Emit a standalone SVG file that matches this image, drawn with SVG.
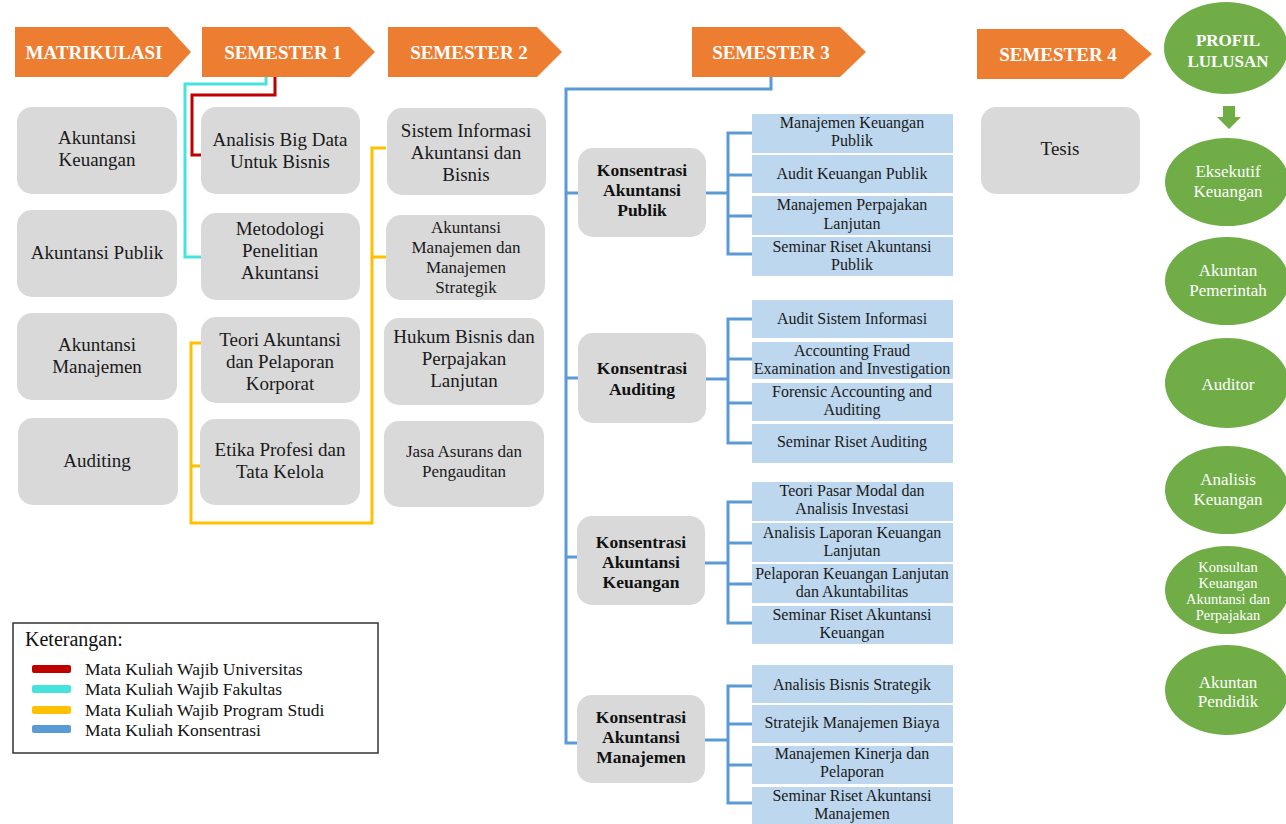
<svg xmlns="http://www.w3.org/2000/svg" width="1286" height="824" viewBox="0 0 1286 824">
<style>
text{font-family:"Liberation Serif","Times New Roman",Tinos,"DejaVu Serif","Noto Serif",serif}
.arr{fill:#ED7D31}
.arrt{font-weight:bold;font-size:19px;fill:#FFFFFF;text-anchor:middle}
.gb{fill:#D9D9D9}
.gt{font-size:19px;fill:#1a1a1a;text-anchor:middle}
.gs{font-size:17px}
.ct{font-weight:bold;font-size:17.5px;fill:#111;text-anchor:middle}
.bb{fill:#BDD7EE}
.bt{font-size:16px;fill:#1a1a1a;text-anchor:middle}
.el{fill:#70AD47}
.et{font-size:17px;fill:#FFFFFF;text-anchor:middle}
.eb{font-size:17px;font-weight:bold}
.es{font-size:14.5px}
.lt{font-size:17.5px;fill:#111}
.lh{font-size:20px}
.c{fill:none;stroke-width:3}
.red{stroke:#C00000}
.cy{stroke:#45E3DC}
.ye{stroke:#FFC000}
.bl{stroke:#5B9BD5}
</style>
<rect width="1286" height="824" fill="#FFFFFF"/>

<g id="connectors">
<polyline class="c cy" points="266,77 266,84 185,84 185,257 201,257"/>
<polyline class="c red" points="275,77 275,95 192,95 192,155 202,155"/>
<polyline class="c ye" points="201,343 191,343 191,523 372,523 372,148 386,148"/>
<polyline class="c ye" points="191,466 201,466"/>
<polyline class="c ye" points="372,257 386,257"/>
<polyline class="c bl" points="771,77 771,89 566,89 566,743 578,743"/>
<polyline class="c bl" points="566,193 578,193"/>
<polyline class="c bl" points="566,378 578,378"/>
<polyline class="c bl" points="566,557 578,557"/>
<polyline class="c bl" points="706,193 728,193"/>
<polyline class="c bl" points="752,133 728,133 728,254 752,254"/>
<polyline class="c bl" points="728,175 752,175"/>
<polyline class="c bl" points="728,216 752,216"/>
<polyline class="c bl" points="706,379 728,379"/>
<polyline class="c bl" points="752,319 728,319 728,443 752,443"/>
<polyline class="c bl" points="728,359 752,359"/>
<polyline class="c bl" points="728,403 752,403"/>
<polyline class="c bl" points="705,563 728,563"/>
<polyline class="c bl" points="752,502 728,502 728,623 752,623"/>
<polyline class="c bl" points="728,543 752,543"/>
<polyline class="c bl" points="728,584 752,584"/>
<polyline class="c bl" points="705,740 728,740"/>
<polyline class="c bl" points="752,686 728,686 728,803 752,803"/>
<polyline class="c bl" points="728,724 752,724"/>
<polyline class="c bl" points="728,765 752,765"/>
</g>

<g id="matrikulasi"><polygon class="arr" points="15,27 168,27 191,52 168,77 15,77"/><text class="arrt" x="94" y="59">MATRIKULASI</text></g>
<g id="semester1"><polygon class="arr" points="202,27 350,27 375,52 350,77 202,77"/><text class="arrt" x="283" y="59">SEMESTER 1</text></g>
<g id="semester2"><polygon class="arr" points="388,27 537,27 562,52 537,77 388,77"/><text class="arrt" x="469" y="59">SEMESTER 2</text></g>
<g id="semester3"><polygon class="arr" points="692,27 840,27 866,52 840,77 692,77"/><text class="arrt" x="771" y="59">SEMESTER 3</text></g>
<g id="semester4"><polygon class="arr" points="977,29 1123,29 1152,54 1123,79 977,79"/><text class="arrt" x="1058" y="61">SEMESTER 4</text></g>

<g id="m1"><rect class="gb" x="17" y="107" width="160" height="87" rx="15"/><text class="gt" x="97" y="144">Akuntansi</text><text class="gt" x="97" y="166">Keuangan</text></g>
<g id="m2"><rect class="gb" x="17" y="210" width="160" height="87" rx="15"/><text class="gt" x="97" y="259">Akuntansi Publik</text></g>
<g id="m3"><rect class="gb" x="17" y="313" width="160" height="87" rx="15"/><text class="gt" x="97" y="351">Akuntansi</text><text class="gt" x="97" y="373">Manajemen</text></g>
<g id="m4"><rect class="gb" x="18" y="418" width="160" height="87" rx="15"/><text class="gt" x="97" y="467">Auditing</text></g>

<g id="s1a"><rect class="gb" x="201" y="107" width="159" height="87" rx="15"/><text class="gt" x="280" y="146">Analisis Big Data</text><text class="gt" x="280" y="168">Untuk Bisnis</text></g>
<g id="s1b"><rect class="gb" x="201" y="213" width="159" height="87" rx="15"/><text class="gt" x="280" y="235">Metodologi</text><text class="gt" x="280" y="257">Penelitian</text><text class="gt" x="280" y="279">Akuntansi</text></g>
<g id="s1c"><rect class="gb" x="201" y="317" width="159" height="86" rx="15"/><text class="gt" x="280" y="346">Teori Akuntansi</text><text class="gt" x="280" y="368">dan Pelaporan</text><text class="gt" x="280" y="390">Korporat</text></g>
<g id="s1d"><rect class="gb" x="200" y="419" width="160" height="86" rx="15"/><text class="gt" x="280" y="456">Etika Profesi dan</text><text class="gt" x="280" y="478">Tata Kelola</text></g>

<g id="s2a"><rect class="gb" x="387" y="108" width="159" height="87" rx="15"/><text class="gt" x="466" y="137">Sistem Informasi</text><text class="gt" x="466" y="159">Akuntansi dan</text><text class="gt" x="466" y="181">Bisnis</text></g>
<g id="s2b"><rect class="gb" x="386" y="215" width="159" height="85" rx="15"/><text class="gt gs" x="466" y="233">Akuntansi</text><text class="gt gs" x="466" y="253">Manajemen dan</text><text class="gt gs" x="466" y="273">Manajemen</text><text class="gt gs" x="466" y="293">Strategik</text></g>
<g id="s2c"><rect class="gb" x="384" y="318" width="160" height="87" rx="15"/><text class="gt" x="464" y="343">Hukum Bisnis dan</text><text class="gt" x="464" y="365">Perpajakan</text><text class="gt" x="464" y="387">Lanjutan</text></g>
<g id="s2d"><rect class="gb" x="384" y="421" width="160" height="86" rx="15"/><text class="gt gs" x="464" y="457">Jasa Asurans dan</text><text class="gt gs" x="464" y="477">Pengauditan</text></g>

<g id="k1"><rect class="gb" x="578" y="148" width="128" height="89" rx="15"/><text class="ct" x="642" y="176">Konsentrasi</text><text class="ct" x="642" y="196">Akuntansi</text><text class="ct" x="642" y="216">Publik</text></g>
<g id="k2"><rect class="gb" x="578" y="333" width="128" height="90" rx="15"/><text class="ct" x="642" y="374">Konsentrasi</text><text class="ct" x="642" y="395">Auditing</text></g>
<g id="k3"><rect class="gb" x="577" y="516" width="128" height="89" rx="15"/><text class="ct" x="641" y="548">Konsentrasi</text><text class="ct" x="641" y="568">Akuntansi</text><text class="ct" x="641" y="588">Keuangan</text></g>
<g id="k4"><rect class="gb" x="577" y="695" width="128" height="88" rx="15"/><text class="ct" x="641" y="723">Konsentrasi</text><text class="ct" x="641" y="743">Akuntansi</text><text class="ct" x="641" y="763">Manajemen</text></g>

<g id="p1"><rect class="bb" x="752" y="114" width="201" height="39"/><text class="bt" x="852" y="128">Manajemen Keuangan</text><text class="bt" x="852" y="146">Publik</text></g>
<g id="p2"><rect class="bb" x="752" y="155" width="201" height="38"/><text class="bt" x="852" y="179">Audit Keuangan Publik</text></g>
<g id="p3"><rect class="bb" x="752" y="196" width="201" height="39"/><text class="bt" x="852" y="210">Manajemen Perpajakan</text><text class="bt" x="852" y="229">Lanjutan</text></g>
<g id="p4"><rect class="bb" x="752" y="237" width="201" height="39"/><text class="bt" x="852" y="252">Seminar Riset Akuntansi</text><text class="bt" x="852" y="270">Publik</text></g>

<g id="a1"><rect class="bb" x="752" y="300" width="201" height="38"/><text class="bt" x="852" y="324">Audit Sistem Informasi</text></g>
<g id="a2"><rect class="bb" x="752" y="342" width="201" height="37"/><text class="bt" x="852" y="356">Accounting Fraud</text><text class="bt" x="852" y="374">Examination and Investigation</text></g>
<g id="a3"><rect class="bb" x="752" y="383" width="201" height="38"/><text class="bt" x="852" y="397">Forensic Accounting and</text><text class="bt" x="852" y="415">Auditing</text></g>
<g id="a4"><rect class="bb" x="752" y="424" width="201" height="39"/><text class="bt" x="852" y="447">Seminar Riset Auditing</text></g>

<g id="f1"><rect class="bb" x="752" y="482" width="201" height="39"/><text class="bt" x="852" y="496">Teori Pasar Modal dan</text><text class="bt" x="852" y="514">Analisis Investasi</text></g>
<g id="f2"><rect class="bb" x="752" y="523" width="201" height="39"/><text class="bt" x="852" y="538">Analisis Laporan Keuangan</text><text class="bt" x="852" y="556">Lanjutan</text></g>
<g id="f3"><rect class="bb" x="752" y="564" width="201" height="39"/><text class="bt" x="852" y="579">Pelaporan Keuangan Lanjutan</text><text class="bt" x="852" y="597">dan Akuntabilitas</text></g>
<g id="f4"><rect class="bb" x="752" y="606" width="201" height="38"/><text class="bt" x="852" y="620">Seminar Riset Akuntansi</text><text class="bt" x="852" y="638">Keuangan</text></g>

<g id="j1"><rect class="bb" x="752" y="665" width="201" height="38"/><text class="bt" x="852" y="690">Analisis Bisnis Strategik</text></g>
<g id="j2"><rect class="bb" x="752" y="705" width="201" height="38"/><text class="bt" x="852" y="728">Stratejik Manajemen Biaya</text></g>
<g id="j3"><rect class="bb" x="752" y="746" width="201" height="38"/><text class="bt" x="852" y="759">Manajemen Kinerja dan</text><text class="bt" x="852" y="777">Pelaporan</text></g>
<g id="j4"><rect class="bb" x="752" y="787" width="201" height="37"/><text class="bt" x="852" y="801">Seminar Riset Akuntansi</text><text class="bt" x="852" y="819">Manajemen</text></g>

<g id="tesis"><rect class="gb" x="981" y="107" width="159" height="87" rx="15"/><text class="gt" x="1060" y="155">Tesis</text></g>

<g id="profil"><ellipse class="el" cx="1226" cy="48" rx="62" ry="46"/><text class="et eb" x="1228" y="46">PROFIL</text><text class="et eb" x="1228" y="67">LULUSAN</text></g>
<g id="downarrow"><polygon class="el" points="1223,106 1235,106 1235,117 1241,117 1229,129 1217,117 1223,117"/></g>
<g id="g1"><ellipse class="el" cx="1227" cy="182" rx="62" ry="44"/><text class="et" x="1228" y="177">Eksekutif</text><text class="et" x="1228" y="197">Keuangan</text></g>
<g id="g2"><ellipse class="el" cx="1227" cy="281" rx="62" ry="44"/><text class="et" x="1228" y="276">Akuntan</text><text class="et" x="1228" y="296">Pemerintah</text></g>
<g id="g3"><ellipse class="el" cx="1227" cy="383" rx="62" ry="45"/><text class="et" x="1228" y="390">Auditor</text></g>
<g id="g4"><ellipse class="el" cx="1227" cy="490" rx="62" ry="44"/><text class="et" x="1228" y="485">Analisis</text><text class="et" x="1228" y="505">Keuangan</text></g>
<g id="g5"><ellipse class="el" cx="1227" cy="590" rx="62" ry="44"/><text class="et es" x="1228" y="572">Konsultan</text><text class="et es" x="1228" y="588">Keuangan</text><text class="et es" x="1228" y="604">Akuntansi dan</text><text class="et es" x="1228" y="620">Perpajakan</text></g>
<g id="g6"><ellipse class="el" cx="1227" cy="690" rx="62" ry="45"/><text class="et" x="1228" y="688">Akuntan</text><text class="et" x="1228" y="707">Pendidik</text></g>

<g id="legend">
<rect x="13" y="623" width="365" height="130" fill="#FFFFFF" stroke="#333" stroke-width="1.5"/>
<text class="lt lh" x="25" y="646">Keterangan:</text>
<rect x="32" y="665" width="39" height="8" rx="2" fill="#C00000"/>
<rect x="32" y="685" width="39" height="8" rx="2" fill="#45E3DC"/>
<rect x="32" y="706" width="39" height="8" rx="2" fill="#FFC000"/>
<rect x="32" y="725" width="39" height="8" rx="2" fill="#5B9BD5"/>
<text class="lt" x="85" y="675">Mata Kuliah Wajib Universitas</text>
<text class="lt" x="85" y="695">Mata Kuliah Wajib Fakultas</text>
<text class="lt" x="85" y="716">Mata Kuliah Wajib Program Studi</text>
<text class="lt" x="85" y="736">Mata Kuliah Konsentrasi</text>
</g>
</svg>
